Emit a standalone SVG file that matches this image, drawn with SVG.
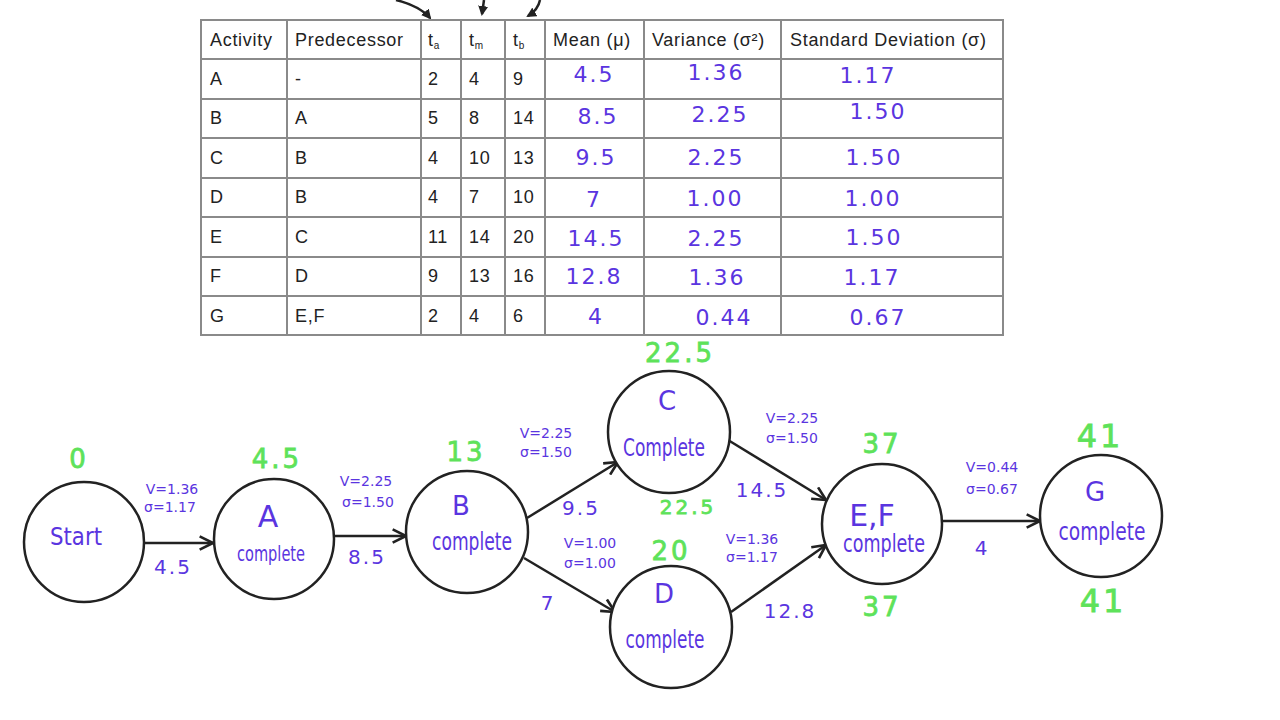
<svg xmlns="http://www.w3.org/2000/svg" width="1280" height="720" viewBox="0 0 1280 720">
<style>
.tb{font-family:"Liberation Sans",Arial,sans-serif;font-size:18px;letter-spacing:0.7px;fill:#222}
.sub{font-size:10px}
.hw{font-family:"DejaVu Sans","Liberation Sans",sans-serif;fill:#5a35e0;text-anchor:middle}
.v{font-size:22px;letter-spacing:2px}
.sm{font-size:14px}
.gr{font-family:"DejaVu Sans","Liberation Sans",sans-serif;fill:#5ee25a;stroke:#5ee25a;stroke-width:0.8;text-anchor:middle;font-size:26px;letter-spacing:3px}
.node{fill:#fff;stroke:#222;stroke-width:2.5}
.edge{stroke:#222;stroke-width:2.5;fill:none}
.grid{stroke:#8a8a8a;stroke-width:2;fill:none}
</style>
<defs>
<marker id="ah" viewBox="0 0 12 12" refX="11" refY="6" markerWidth="16" markerHeight="16" markerUnits="userSpaceOnUse" orient="auto">
<path d="M1,1 L11,6 L1,11" fill="none" stroke="#222" stroke-width="2"/>
</marker>
<marker id="fa" viewBox="0 0 10 10" refX="8" refY="5" markerWidth="10" markerHeight="10" markerUnits="userSpaceOnUse" orient="auto">
<path d="M0,0 L10,5 L0,10 Z" fill="#222"/>
</marker>
</defs>
<rect width="1280" height="720" fill="#fff"/>

<g id="top-arrows">
<path class="edge" d="M396,0 Q420,6 430,18" marker-end="url(#fa)"/>
<path class="edge" d="M484,0 L482,14" marker-end="url(#fa)"/>
<path class="edge" d="M540,0 Q538,10 528,16" marker-end="url(#fa)"/>
</g>

<g id="table">
<rect class="grid" x="201" y="20" width="802" height="315"/>
<path class="grid" d="M201,59 H1003 M201,99 H1003 M201,138 H1003 M201,178 H1003 M201,217 H1003 M201,257 H1003 M201,296 H1003"/>
<path class="grid" d="M287,20 V335 M421,20 V335 M461,20 V335 M505,20 V335 M545,20 V335 M644,20 V335 M781,20 V335"/>
<g class="tb">
<text x="210" y="46">Activity</text>
<text x="295" y="46">Predecessor</text>
<text x="428" y="46">t<tspan class="sub" dy="3">a</tspan></text>
<text x="469" y="46">t<tspan class="sub" dy="3">m</tspan></text>
<text x="513" y="46">t<tspan class="sub" dy="3">b</tspan></text>
<text x="553" y="46">Mean (μ)</text>
<text x="652" y="46">Variance (σ²)</text>
<text x="790" y="46">Standard Deviation (σ)</text>

<text x="210" y="85">A</text><text x="295" y="85">-</text><text x="428" y="85">2</text><text x="469" y="85">4</text><text x="513" y="85">9</text>
<text x="210" y="124">B</text><text x="295" y="124">A</text><text x="428" y="124">5</text><text x="469" y="124">8</text><text x="513" y="124">14</text>
<text x="210" y="164">C</text><text x="295" y="164">B</text><text x="428" y="164">4</text><text x="469" y="164">10</text><text x="513" y="164">13</text>
<text x="210" y="203">D</text><text x="295" y="203">B</text><text x="428" y="203">4</text><text x="469" y="203">7</text><text x="513" y="203">10</text>
<text x="210" y="243">E</text><text x="295" y="243">C</text><text x="428" y="243">11</text><text x="469" y="243">14</text><text x="513" y="243">20</text>
<text x="210" y="282">F</text><text x="295" y="282">D</text><text x="428" y="282">9</text><text x="469" y="282">13</text><text x="513" y="282">16</text>
<text x="210" y="322">G</text><text x="295" y="322">E,F</text><text x="428" y="322">2</text><text x="469" y="322">4</text><text x="513" y="322">6</text>
</g>
<g class="hw v">
<text x="594" y="82">4.5</text><text x="716" y="80">1.36</text><text x="868" y="83">1.17</text>
<text x="598" y="124">8.5</text><text x="720" y="122">2.25</text><text x="878" y="119">1.50</text>
<text x="596" y="165">9.5</text><text x="716" y="165">2.25</text><text x="874" y="165">1.50</text>
<text x="594" y="207">7</text><text x="715" y="206">1.00</text><text x="873" y="206">1.00</text>
<text x="596" y="246">14.5</text><text x="716" y="246">2.25</text><text x="874" y="245">1.50</text>
<text x="594" y="284">12.8</text><text x="717" y="285">1.36</text><text x="872" y="285">1.17</text>
<text x="596" y="324">4</text><text x="724" y="325">0.44</text><text x="878" y="325">0.67</text>
</g>
</g>

<g id="connectors">
<line class="edge" x1="145" y1="543" x2="213" y2="543" marker-end="url(#ah)"/>
<line class="edge" x1="334" y1="536" x2="406" y2="536" marker-end="url(#ah)"/>
<line class="edge" x1="527" y1="518" x2="618" y2="462" marker-end="url(#ah)"/>
<line class="edge" x1="524" y1="558" x2="615" y2="612" marker-end="url(#ah)"/>
<line class="edge" x1="728" y1="440" x2="826" y2="500" marker-end="url(#ah)"/>
<line class="edge" x1="731" y1="612" x2="826" y2="545" marker-end="url(#ah)"/>
<line class="edge" x1="943" y1="521" x2="1040" y2="521" marker-end="url(#ah)"/>
<g class="hw sm">
<text x="172" y="494">V=1.36</text><text x="170" y="512">σ=1.17</text>
<text x="366" y="486">V=2.25</text><text x="368" y="507">σ=1.50</text>
<text x="546" y="438">V=2.25</text><text x="546" y="457">σ=1.50</text>
<text x="590" y="548">V=1.00</text><text x="590" y="568">σ=1.00</text>
<text x="792" y="423">V=2.25</text><text x="792" y="443">σ=1.50</text>
<text x="752" y="544">V=1.36</text><text x="752" y="562">σ=1.17</text>
<text x="992" y="472">V=0.44</text><text x="992" y="494">σ=0.67</text>
</g>
<g class="hw" style="font-size:20px;letter-spacing:2px">
<text x="173" y="574">4.5</text>
<text x="367" y="564">8.5</text>
<text x="581" y="515">9.5</text>
<text x="548" y="610">7</text>
<text x="762" y="497">14.5</text>
<text x="790" y="618">12.8</text>
<text x="982" y="555">4</text>
</g>
</g>

<g id="start">
<circle class="node" cx="84" cy="542" r="60"/>
<text class="hw" x="76" y="545" style="font-size:24px" textLength="52" lengthAdjust="spacingAndGlyphs">Start</text>
<text class="gr" x="79" y="468">0</text>
</g>
<g id="A">
<circle class="node" cx="274" cy="539" r="60"/>
<text class="hw" x="268" y="527" style="font-size:30px">A</text>
<text class="hw" x="271" y="561" style="font-size:22px" textLength="68" lengthAdjust="spacingAndGlyphs">complete</text>
<text class="gr" x="277" y="468">4.5</text>
</g>
<g id="B">
<circle class="node" cx="467" cy="532" r="61"/>
<text class="hw" x="461" y="515" style="font-size:26px">B</text>
<text class="hw" x="472" y="550" style="font-size:24px" textLength="80" lengthAdjust="spacingAndGlyphs">complete</text>
<text class="gr" x="466" y="461">13</text>
</g>
<g id="C">
<circle class="node" cx="669" cy="432" r="61"/>
<text class="hw" x="667" y="410" style="font-size:26px">C</text>
<text class="hw" x="664" y="456" style="font-size:25px" textLength="82" lengthAdjust="spacingAndGlyphs">Complete</text>
<text class="gr" x="680" y="362">22.5</text>
<text class="gr" x="688" y="514" style="font-size:20px">22.5</text>
</g>
<g id="D">
<circle class="node" cx="671" cy="627" r="61"/>
<text class="hw" x="664" y="603" style="font-size:26px">D</text>
<text class="hw" x="665" y="648" style="font-size:24px" textLength="79" lengthAdjust="spacingAndGlyphs">complete</text>
<text class="gr" x="671" y="560">20</text>
</g>
<g id="EF">
<circle class="node" cx="882" cy="524" r="60"/>
<text class="hw" x="872" y="526" style="font-size:30px">E,F</text>
<text class="hw" x="884" y="552" style="font-size:24px" textLength="82" lengthAdjust="spacingAndGlyphs">complete</text>
<text class="gr" x="882" y="453">37</text>
<text class="gr" x="882" y="616">37</text>
</g>
<g id="G">
<circle class="node" cx="1101" cy="516" r="61"/>
<text class="hw" x="1095" y="501" style="font-size:26px">G</text>
<text class="hw" x="1102" y="540" style="font-size:24px" textLength="87" lengthAdjust="spacingAndGlyphs">complete</text>
<text class="gr" x="1100" y="447" style="font-size:32px">41</text>
<text class="gr" x="1103" y="612" style="font-size:32px">41</text>
</g>
</svg>
